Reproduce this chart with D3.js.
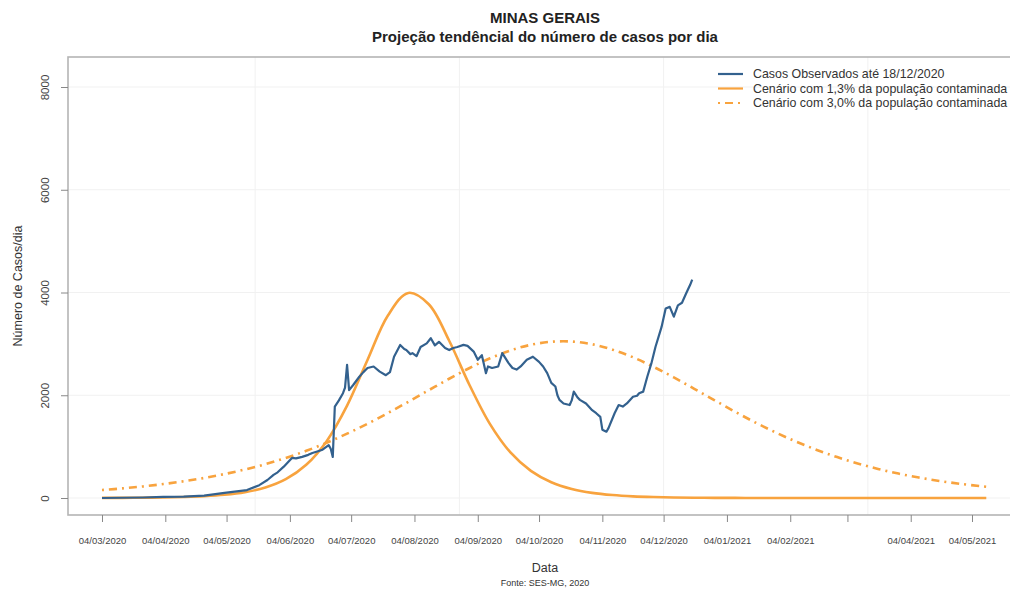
<!DOCTYPE html>
<html>
<head>
<meta charset="utf-8">
<script src="https://d3js.org/d3.v7.min.js"></script>
<style>
  body { margin: 0; background: #fff; }
  text { font-family: "Liberation Sans", Arial, sans-serif; }
</style>
</head>
<body>
<div id="chart"></div>
<script>
// ---- data (days counted from 04/03/2020) ----
var startDay = "2020-03-04";

var obsDays = [0,10,20,30,40,50,60,65,71,77,81,84,86,89,93,95,98,101,103,105,
  108,110,111,112,113,114,116,118,119,120,121,123,126,128,130,133,136,139,141,143,
  146,148,149,151,152,154,156,159,161,163,165,168,170,172,174,177,179,182,184,186,
  188,189,191,194,196,199,201,203,205,208,211,214,216,218,220,222,223,224,226,229,
  230,231,233,234,237,240,242,244,245,247,248,251,253,255,257,260,262,263,265,267,
  269,271,274,276,278,280,282,284,286,288,289];
var obsCases = [0,5,10,20,25,45,100,125,155,250,350,450,500,610,780,770,800,840,875,900,
  940,1000,1030,960,800,1780,1900,2040,2150,2590,2100,2200,2360,2450,2530,2560,2460,2390,2450,2750,
  2980,2900,2880,2800,2820,2760,2940,3010,3110,2970,3040,2920,2880,2920,2940,2980,2960,2850,2690,2780,
  2430,2560,2530,2560,2820,2630,2530,2500,2560,2690,2750,2650,2560,2430,2240,2170,2000,1910,1840,1810,
  1900,2070,1950,1910,1840,1710,1650,1580,1330,1290,1360,1650,1810,1780,1840,1970,1990,2040,2070,2360,
  2620,2940,3330,3690,3720,3530,3750,3800,3980,4150,4250];

var scenDays = [0,10,20,30,40,50,60,70,80,90,100,110,120,130,140,150,160,170,180,190,
  200,210,220,230,240,250,260,270,280,290,300,310,320,330,340,350,360,370,380,390,
  400,410,420,430,433];
var scen13 = [2,3,6,10,19,34,62,113,205,367,647,1107,1798,2687,3553,3992,3772,3061,2195,1437,
  886,528,307,176,100,57,32,18,10,6,3,2,1,1,0,0,0,0,0,0,
  0,0,0,0,0];
var scen30 = [155,187,225,271,325,390,466,555,659,780,918,1075,1252,1445,1654,1873,2098,2321,2531,2719,
  2872,2982,3041,3045,2993,2887,2739,2554,2347,2126,1901,1679,1468,1273,1096,936,796,673,566,475,
  398,332,277,231,218];

var tickDates = ["2020-03-04","2020-04-04","2020-05-04","2020-06-04","2020-07-04","2020-08-04",
  "2020-09-04","2020-10-04","2020-11-04","2020-12-04","2021-01-04","2021-02-04","2021-03-04",
  "2021-04-04","2021-05-04"];
var tickLabels = ["04/03/2020","04/04/2020","04/05/2020","04/06/2020","04/07/2020","04/08/2020",
  "04/09/2020","04/10/2020","04/11/2020","04/12/2020","04/01/2021","04/02/2021","",
  "04/04/2021","04/05/2021"];
var gridDates = ["2020-05-18","2020-08-26","2020-12-04","2021-03-14"];
var yTicks = [0, 2000, 4000, 6000, 8000];
var legendLabels = ["Casos Observados até 18/12/2020",
  "Cenário com 1,3% da população contaminada",
  "Cenário com 3,0% da população contaminada"];

// ---- layout ----
var width = 1010, height = 590;
var box = {left: 68, top: 57, right: 1022, bottom: 515};
var blue = "#33618e", orange = "#f8a33e", frameCol = "#b5b5b5";

var parse = d3.timeParse("%Y-%m-%d");
var t0 = parse(startDay);
function dayToDate(d) { return d3.timeDay.offset(t0, d); }

var svg = d3.select("#chart").append("svg")
  .attr("width", width)
  .attr("height", height);

var x = d3.scaleTime()
  .domain([parse("2020-03-04"), parse("2021-05-04")])
  .range([102, 972]);
var y = d3.scaleLinear()
  .domain([0, 8000])
  .range([498, 87]);

// faint grid
svg.append("g").selectAll("line")
  .data(yTicks).enter().append("line")
  .attr("x1", box.left).attr("x2", box.right)
  .attr("y1", function(d) { return y(d); })
  .attr("y2", function(d) { return y(d); })
  .style("stroke", "#f1f1f1").style("stroke-width", 1);
svg.append("g").selectAll("line")
  .data(gridDates).enter().append("line")
  .attr("x1", function(d) { return x(parse(d)); })
  .attr("x2", function(d) { return x(parse(d)); })
  .attr("y1", box.top).attr("y2", box.bottom)
  .style("stroke", "#f1f1f1").style("stroke-width", 1);

// frame
svg.append("rect")
  .attr("x", box.left).attr("y", box.top)
  .attr("width", box.right - box.left).attr("height", box.bottom - box.top)
  .style("fill", "none").style("stroke", frameCol).style("stroke-width", 1.6);

// x axis
var xAxis = svg.append("g")
  .attr("transform", "translate(0," + box.bottom + ")")
  .call(d3.axisBottom(x)
    .tickValues(tickDates.map(parse))
    .tickFormat(function(d, i) { return tickLabels[i]; })
    .tickSize(7)
    .tickPadding(15));
xAxis.select(".domain").remove();
xAxis.selectAll("line").style("stroke", "#888");
xAxis.selectAll("text")
  .style("font-size", "9.5px")
  .style("fill", "#444")
  .style("font-family", "'Liberation Sans', Arial, sans-serif");

// y axis
var yAxis = svg.append("g")
  .attr("transform", "translate(" + box.left + ",0)")
  .call(d3.axisLeft(y).tickValues(yTicks).tickFormat(d3.format("d")).tickSize(7));
yAxis.select(".domain").remove();
yAxis.selectAll("line").style("stroke", "#888");
yAxis.selectAll("text")
  .attr("x", 0)
  .attr("dy", "0.35em")
  .attr("transform", "translate(-23,0) rotate(-90)")
  .style("text-anchor", "middle")
  .style("font-size", "11.5px")
  .style("fill", "#444")
  .style("font-family", "'Liberation Sans', Arial, sans-serif");

// lines
var lineGen = d3.line()
  .x(function(d) { return x(d[0]); })
  .y(function(d) { return y(d[1]); });

var s30 = scenDays.map(function(d, i) { return [dayToDate(d), scen30[i]]; });
var s13 = scenDays.map(function(d, i) { return [dayToDate(d), scen13[i]]; });
var obs = obsDays.map(function(d, i) { return [dayToDate(d), obsCases[i]]; });

svg.append("path")
  .datum(s30)
  .attr("d", lineGen.curve(d3.curveCatmullRom))
  .style("fill", "none").style("stroke", orange)
  .style("stroke-width", 2.6).style("stroke-dasharray", "2,5,8,5");

svg.append("path")
  .datum(s13)
  .attr("d", lineGen.curve(d3.curveCatmullRom))
  .style("fill", "none").style("stroke", orange)
  .style("stroke-width", 2.6);

svg.append("path")
  .datum(obs)
  .attr("d", lineGen.curve(d3.curveLinear))
  .style("fill", "none").style("stroke", blue)
  .style("stroke-width", 2.2).style("stroke-linejoin", "round");

// legend
var legend = svg.append("g").selectAll("g")
  .data(legendLabels).enter().append("g")
  .attr("transform", function(d, i) { return "translate(718," + (74 + i * 14.5) + ")"; });
legend.append("line")
  .attr("x1", 0).attr("x2", 25)
  .style("stroke", function(d, i) { return i == 0 ? blue : orange; })
  .style("stroke-width", 2.2)
  .style("stroke-dasharray", function(d, i) { return i == 2 ? "2,5,8,5" : null; });
legend.append("text")
  .attr("x", 35).attr("dy", "0.35em")
  .text(function(d) { return d; })
  .style("font-size", "12.4px")
  .style("fill", "#333");

// titles
svg.append("text").attr("x", 545).attr("y", 23)
  .style("text-anchor", "middle").style("font-weight", "bold")
  .style("font-size", "15px").style("fill", "#222")
  .text("MINAS GERAIS");
svg.append("text").attr("x", 545).attr("y", 42)
  .style("text-anchor", "middle").style("font-weight", "bold")
  .style("font-size", "15px").style("fill", "#222")
  .text("Projeção tendêncial do número de casos por dia");

svg.append("text")
  .attr("transform", "translate(18,286) rotate(-90)")
  .attr("dy", "0.35em")
  .style("text-anchor", "middle").style("font-size", "12.5px").style("fill", "#333")
  .text("Número de Casos/dia");

svg.append("text").attr("x", 545).attr("y", 572)
  .style("text-anchor", "middle").style("font-size", "12.5px").style("fill", "#333")
  .text("Data");
svg.append("text").attr("x", 545).attr("y", 586)
  .style("text-anchor", "middle").style("font-size", "9px").style("fill", "#333")
  .text("Fonte: SES-MG, 2020");
</script>
</body>
</html>
